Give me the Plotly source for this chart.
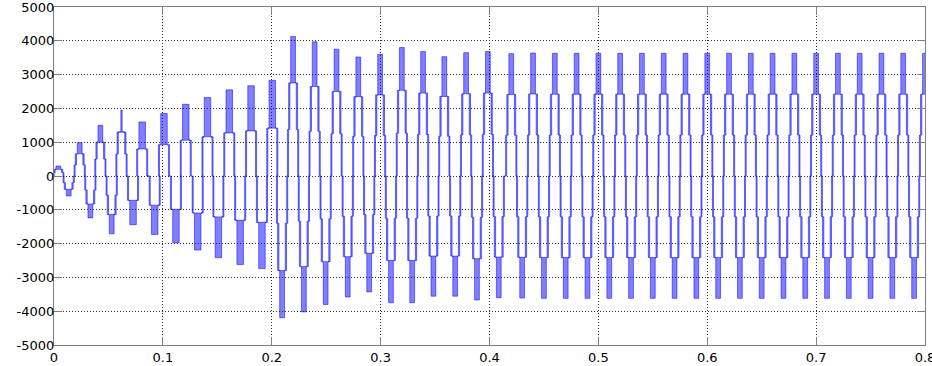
import plotly.graph_objects as go

# ---- data ----
# centre time (s) of each half-cycle (positive peaks / negative troughs)
half_cycle_centres = [
    0.0040, 0.0135, 0.0236, 0.0334, 0.0426, 0.0530, 0.0620, 0.0726, 0.0810, 0.0925,
    0.1010, 0.1120, 0.1210, 0.1320, 0.1410, 0.1510, 0.1610, 0.1710, 0.1810, 0.1910,
    0.2005, 0.2095, 0.2196, 0.2295, 0.2394, 0.2495, 0.2595, 0.2698, 0.2795, 0.2895,
    0.2995, 0.3095, 0.3195, 0.3290, 0.3390, 0.3485, 0.3585, 0.3685, 0.3785, 0.3885,
    0.3985, 0.4085, 0.4200, 0.4300, 0.4400, 0.4500, 0.4600, 0.4700, 0.4800, 0.4900,
    0.5000, 0.5100, 0.5200, 0.5300, 0.5400, 0.5500, 0.5600, 0.5700, 0.5800, 0.5900,
    0.6000, 0.6100, 0.6200, 0.6300, 0.6400, 0.6500, 0.6600, 0.6700, 0.6800, 0.6900,
    0.7000, 0.7100, 0.7200, 0.7300, 0.7400, 0.7500, 0.7600, 0.7700, 0.7800, 0.7900,
    0.8000,
]
# extreme value reached in each half-cycle
half_cycle_peaks = [
    295, -590, 985, -1240, 1500, -1710, 1950, -1440, 1600, -1730,
    1850, -1975, 2120, -2190, 2320, -2420, 2550, -2620, 2670, -2740,
    2830, -4195, 4130, -4020, 3970, -3800, 3750, -3580, 3520, -3430,
    3600, -3750, 3800, -3750, 3680, -3555, 3530, -3555, 3650, -3670,
    3680, -3600, 3620, -3610, 3640, -3620, 3630, -3620, 3630, -3620,
    3630, -3620, 3630, -3620, 3630, -3620, 3630, -3620, 3630, -3620,
    3630, -3620, 3630, -3620, 3630, -3620, 3630, -3620, 3630, -3620,
    3630, -3620, 3630, -3620, 3630, -3620, 3630, -3620, 3630, -3620,
    3630,
]
# number of voltage steps used in each half-cycle
half_cycle_levels = [
    3, 3, 3, 3, 3, 3, 3, 2, 2, 2,
    2, 2, 2, 2, 2, 2, 2, 2, 2, 2,
    2, 3, 3, 3, 3, 3, 3, 3, 3, 3,
    3, 3, 3, 3, 3, 3, 3, 3, 3, 3,
    3, 3, 3, 3, 3, 3, 3, 3, 3, 3,
    3, 3, 3, 3, 3, 3, 3, 3, 3, 3,
    3, 3, 3, 3, 3, 3, 3, 3, 3, 3,
    3, 3, 3, 3, 3, 3, 3, 3, 3, 3,
    3,
]
# switching instants measured from the half-cycle centre (s)
switch_offsets_3 = [0.0022, 0.0029, 0.0041, 0.0042, 0.0052]
switch_offsets_2 = [0.0030, 0.0041, 0.0051]
narrow_top_band = {6: 0.0006}

x_tick_values = [0, 0.1, 0.2, 0.3, 0.4, 0.5, 0.6, 0.7, 0.8]
x_tick_labels = ["0", "0.1", "0.2", "0.3", "0.4", "0.5", "0.6", "0.7", "0.8"]
y_tick_values = [-5000, -4000, -3000, -2000, -1000, 0, 1000, 2000, 3000, 4000, 5000]
y_tick_labels = ["-5000", "-4000", "-3000", "-2000", "-1000", "0",
                 "1000", "2000", "3000", "4000", "5000"]

# ---- build switching bands (PWM regions) and flat segments ----
band_x, band_y, flat_x, flat_y = [], [], [], []


def add_band(t0, t1, v0, v1):
    band_x.extend([t0, t1, t1, t0, t0, None])
    band_y.extend([v0, v0, v1, v1, v0, None])


def add_flat(t0, t1, v):
    flat_x.extend([t0, t1, None])
    flat_y.extend([v, v, None])


prev_end = 0.0
for j, (c, p, n) in enumerate(zip(half_cycle_centres, half_cycle_peaks, half_cycle_levels)):
    s = p / n
    offs = list(switch_offsets_3 if n == 3 else switch_offsets_2)
    if j in narrow_top_band:
        offs[0] = narrow_top_band[j]
    outer = offs[-1]
    start = max(c - outer, 0.0)
    if start > prev_end:
        add_flat(prev_end, start, 0)
    if n == 3:
        d1, d2, d3, d4, d5 = offs
        add_band(c - d1, c + d1, 2 * s, 3 * s)
        for sg in (-1, 1):
            add_flat(c + sg * d1, c + sg * d2, 2 * s)
            add_band(c + sg * d2, c + sg * d3, s, 2 * s)
            add_flat(c + sg * d3, c + sg * d4, s)
            add_band(max(c + sg * d4, 0), max(c + sg * d5, 0), 0, s)
    else:
        e1, e2, e3 = offs
        add_band(c - e1, c + e1, s, 2 * s)
        for sg in (-1, 1):
            add_flat(c + sg * e1, c + sg * e2, s)
            add_band(max(c + sg * e2, 0), max(c + sg * e3, 0), 0, s)
    prev_end = c + outer

fig = go.Figure()
fig.add_trace(go.Scatter(
    x=band_x, y=band_y, mode="lines", fill="toself",
    fillcolor="rgba(0,0,255,0.5)",
    line=dict(color="rgba(0,0,255,0.5)", width=1),
    hoverinfo="skip", connectgaps=False,
))
fig.add_trace(go.Scatter(
    x=flat_x, y=flat_y, mode="lines",
    line=dict(color="rgb(15,15,255)", width=1.2),
    hoverinfo="skip", connectgaps=False,
))

axis_common = dict(
    showgrid=True, gridcolor="#303030", gridwidth=1, griddash="1px,2px",
    showline=True, linecolor="#7f7f7f", linewidth=1, mirror="ticks",
    ticks="inside", ticklen=8, tickcolor="#7f7f7f", tickwidth=1,
    zeroline=False, automargin=False, ticklabeloverflow="allow",
    tickfont=dict(family="DejaVu Sans", size=13, color="#000000"),
)
fig.update_xaxes(range=[0, 0.8], tickmode="array", tickvals=x_tick_values,
                 ticktext=x_tick_labels, **axis_common)
fig.update_yaxes(range=[-5000, 5000], tickmode="array", tickvals=y_tick_values,
                 ticktext=y_tick_labels, ticklabelstandoff=-4, **axis_common)
fig.update_layout(
    template="none", width=932, height=366, autosize=False,
    margin=dict(l=54, r=7, t=7, b=21, pad=0, autoexpand=False),
    plot_bgcolor="white", paper_bgcolor="white", showlegend=False,
    font=dict(family="DejaVu Sans", size=13, color="#000000"),
)
fig.write_html(
    "out.html",
    config={"displayModeBar": False},
    post_script="document.body.style.margin='0px';document.body.style.overflow='hidden';",
)
